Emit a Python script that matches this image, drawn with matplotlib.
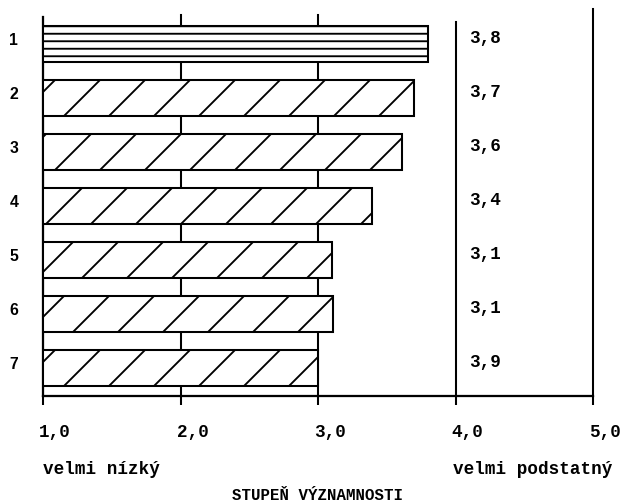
import matplotlib
matplotlib.use('Agg')
import matplotlib.pyplot as plt
import matplotlib.transforms as mtransforms

# data
categories = ['1', '2', '3', '4', '5', '6', '7']
values = [3.80, 3.70, 3.61, 3.39, 3.10, 3.11, 3.00]
value_labels = ['3,8', '3,7', '3,6', '3,4', '3,1', '3,1', '3,9']
hatches = ['------', '//', '//', '//', '//', '//', '//']
x_ticks = [1, 2, 3, 4, 5]
x_tick_labels = ['1,0', '2,0', '3,0', '4,0', '5,0']

DPI = 270
plt.rcParams['hatch.linewidth'] = 0.5
mono = 'Liberation Mono'

fig = plt.figure(figsize=(623 / DPI, 503 / DPI), dpi=DPI)
ax = fig.add_axes([43 / 623, 1 - 396 / 503, 550 / 623, 379 / 503])

pos = list(range(1, len(categories) + 1))
for p, v, h in zip(pos, values, hatches):
    ax.barh(p, v - 1, left=1, height=0.67, color='white',
            edgecolor='black', linewidth=0.55, hatch=h, zorder=3)

# vertical guide lines
for x in (2, 3):
    ax.axvline(x, ymin=0, ymax=1.005, color='black', lw=0.55, zorder=1, clip_on=False)
ax.axvline(4, ymin=0, ymax=0.987, color='black', lw=0.55, zorder=1)
ax.axvline(5, ymin=0, ymax=1.02, color='black', lw=0.55, zorder=1, clip_on=False)

ax.set_xlim(1, 5)
ax.set_ylim(len(categories) + 0.52, 0.5)

for s in ('top', 'right'):
    ax.spines[s].set_visible(False)
ax.spines['left'].set_linewidth(0.6)
ax.spines['bottom'].set_linewidth(0.6)

up = mtransforms.ScaledTranslation(0, 5 / DPI, fig.dpi_scale_trans)
ax.set_yticks(pos)
ax.set_yticklabels(categories, family='Liberation Sans', fontweight='bold', fontsize=4.2)
ax.tick_params(axis='y', length=0, pad=6.6)
for lab in ax.get_yticklabels():
    lab.set_transform(lab.get_transform() + up)

left = mtransforms.ScaledTranslation(-4 / DPI, 0, fig.dpi_scale_trans)
ax.set_xticks(x_ticks)
ax.set_xticklabels(x_tick_labels, family=mono, fontsize=4.7, fontweight='bold', ha='left')
ax.tick_params(axis='x', direction='out', length=2.4, width=0.55, pad=5.2)
for lab in ax.get_xticklabels():
    lab.set_transform(lab.get_transform() + left)

# values at the right
for p, t in zip(pos, value_labels):
    ax.text(4.1, p, t, transform=ax.transData + up, family=mono,
            fontsize=4.7, fontweight='bold', ha='left', va='center')

ax.annotate('velmi nízký', xy=(1, 1 - 470 / 503), xycoords=('data', 'figure fraction'),
            family=mono, fontsize=4.7, fontweight='bold', ha='left', va='center',
            annotation_clip=False)
ax.annotate('velmi podstatný', xy=(5.14, 1 - 470 / 503), xycoords=('data', 'figure fraction'),
            family=mono, fontsize=4.7, fontweight='bold', ha='right', va='center',
            annotation_clip=False)
ax.annotate('STUPEŇ VÝZNAMNOSTI', xy=(3, 1 - 495 / 503), xycoords=('data', 'figure fraction'),
            family=mono, fontsize=4.2, fontweight='bold', ha='center', va='center',
            annotation_clip=False)

fig.savefig('out.png', dpi=DPI)
